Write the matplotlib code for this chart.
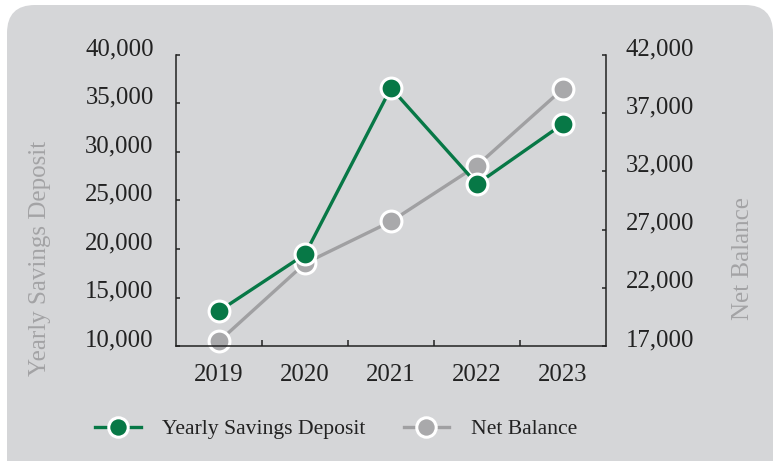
import numpy as np
import matplotlib
matplotlib.use("Agg")
import matplotlib.pyplot as plt
from matplotlib.patches import FancyBboxPatch
from matplotlib.lines import Line2D
from matplotlib.transforms import IdentityTransform
from matplotlib.ticker import FuncFormatter

years = ["2019", "2020", "2021", "2022", "2023"]
savings = [13600, 19450, 36600, 26700, 32900]
balance = [17400, 24100, 27700, 32500, 39100]
left_ticks = [10000, 15000, 20000, 25000, 30000, 35000, 40000]
right_ticks = [17000, 22000, 27000, 32000, 37000, 42000]

GREEN = "#077846"
GRAY_LINE = "#a0a0a2"
GRAY_DOT = "#a9a9ab"
BG = "#d5d6d8"
LBL = "#a3a3a5"
INK = "#222222"

plt.rcParams['font.family'] = ['Liberation Serif', 'DejaVu Serif']

fig = plt.figure(figsize=(7.75, 4.61), dpi=100, facecolor="white")
# rounded grey card behind everything (pixel coords)
bg = FancyBboxPatch((7, -30), 766, 486, boxstyle="round,pad=0,rounding_size=28",
                    transform=IdentityTransform(), facecolor=BG, edgecolor="none", zorder=-10)
fig.patches.append(bg)

ax = fig.add_axes([176/775, 115/461, 430/775, 291/461])
ax.patch.set_visible(False)
ax2 = ax.twinx()
ax2.patch.set_visible(False)

x = np.arange(len(years))
ax2.plot(x, balance, color=GRAY_LINE, lw=2.4, marker="o", ms=15, mfc=GRAY_DOT,
         mec="white", mew=2.2, clip_on=False, zorder=3)
ax.plot(x, savings, color=GREEN, lw=2.4, marker="o", ms=15, mfc=GREEN,
        mec="white", mew=2.2, clip_on=False, zorder=4)
ax.set_zorder(ax2.get_zorder() + 1)

ax.set_xlim(-0.5, 4.5)
ax.set_ylim(10000, 40000)
ax2.set_ylim(17000, 42000)

fmt = FuncFormatter(lambda v, p: "{:,.0f}".format(v))
ax.set_yticks(left_ticks)
ax.yaxis.set_major_formatter(fmt)
ax2.set_yticks(right_ticks)
ax2.yaxis.set_major_formatter(fmt)

ax.set_xticks([0.5, 1.5, 2.5, 3.5])
ax.set_xticklabels([])
ax.set_xticks(x, minor=True)
ax.set_xticklabels(years, minor=True)
ax.tick_params(axis="x", which="major", direction="in", length=4, width=1.1, color=INK)
ax.tick_params(axis="x", which="minor", length=0, pad=13, labelsize=17.8, labelcolor=INK)
ax.tick_params(axis="y", direction="in", length=3.2, width=1.1, color=INK,
               pad=16, labelsize=17.8, labelcolor=INK)
ax2.tick_params(axis="y", direction="in", length=3.2, width=1.1, color=INK,
                pad=14, labelsize=17.8, labelcolor=INK)
for lab in ax.get_yticklabels() + ax2.get_yticklabels():
    lab.set_verticalalignment("baseline")

for a in (ax, ax2):
    a.spines["top"].set_visible(False)
    for s in ("left", "right", "bottom"):
        a.spines[s].set_color(INK)
        a.spines[s].set_linewidth(1.1)
ax2.spines["left"].set_visible(False)
ax2.spines["bottom"].set_visible(False)
ax.spines["right"].set_visible(False)

fig.text(40/775, 1 - 258/461, "Yearly Savings Deposit", rotation=90, color=LBL,
         fontsize=18, ha="center", va="center")
fig.text(743/775, 1 - 258/461, "Net Balance", rotation=90, color=LBL,
         fontsize=18, ha="center", va="center")

h1 = Line2D([], [], color=GREEN, lw=2.4, marker="o", ms=14, mfc=GREEN, mec="white", mew=2.2)
h2 = Line2D([], [], color=GRAY_LINE, lw=2.4, marker="o", ms=14, mfc=GRAY_DOT, mec="white", mew=2.2)
fig.legend([h1, h2], ["Yearly Savings Deposit", "Net Balance"], loc="center",
           bbox_to_anchor=(336/775, 1 - 429/461), ncol=2, frameon=False,
           fontsize=15.6, handlelength=2.1, handletextpad=1.0, columnspacing=1.75,
           labelcolor=INK)

fig.savefig("out.png", dpi=100, facecolor="white")
